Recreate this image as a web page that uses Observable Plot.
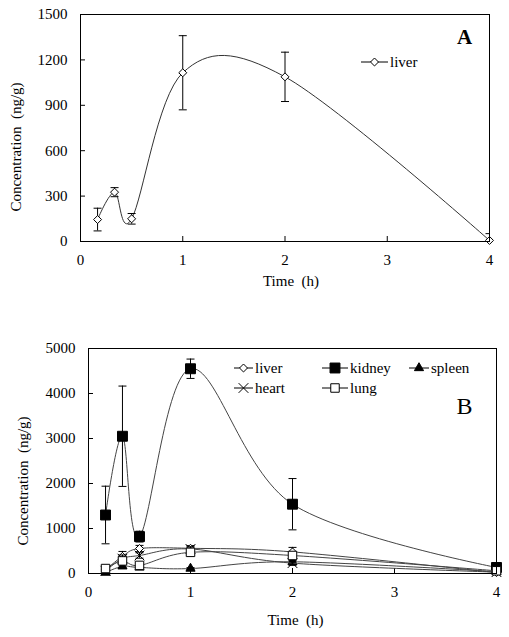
<!DOCTYPE html>
<html>
<head>
<meta charset="utf-8">
<script src="https://cdn.jsdelivr.net/npm/d3@7"></script>
<script src="https://cdn.jsdelivr.net/npm/@observablehq/plot@0.6"></script>
<style>
  html, body { margin: 0; padding: 0; background: white; }
  #chart svg { display: block; }
</style>
</head>
<body>
<div id="chart"></div>
<script>
// ---- data ----
const times = [0.167, 0.333, 0.5, 1, 2, 4];
const xTicks = [0, 1, 2, 3, 4];
const yTicksA = [0, 300, 600, 900, 1200, 1500];
const yTicksB = [0, 1000, 2000, 3000, 4000, 5000];

const liverA = [145, 326, 150, 1115, 1088, 7];
const liverAErr = [75, 30, 35, 245, 163, 45];

const liverB = [80, 380, 555, 560, 480, 20];
const liverBErr = [30, 110, 70, 60, 100, 20];
const kidneyB = [1300, 3050, 820, 4550, 1540, 134];
const kidneyBErr = [640, 1115, 120, 215, 570, 40];
const spleenB = [20, 160, 135, 110, 260, 40];
const spleenBErr = [10, 40, 30, 20, 40, 10];
const heartB = [60, 330, 400, 545, 230, 30];
const heartBErr = [20, 80, 60, 50, 50, 10];
const lungB = [110, 280, 180, 470, 400, 60];
const lungBErr = [30, 60, 50, 60, 60, 20];

const xLabel = "Time\u00a0 (h)";
const yLabel = "Concentration\u00a0 (ng/g)";

// ---- styling ----
const FONT = "'Liberation Serif', 'Times New Roman', serif";
const seriesStyle = {
  liver:  {symbol: "diamond2", r: 3.6, fill: "white"},
  kidney: {symbol: "square",   r: 5.6, fill: "black"},
  spleen: {symbol: "triangle", r: 3.4, fill: "black"},
  heart:  {symbol: "times",    r: 4.5, fill: "none"},
  lung:   {symbol: "square2",  r: 5.4, fill: "white"}
};
const capSymbol = {
  draw(context, size) {
    const r = Math.sqrt(size / Math.PI);
    context.moveTo(-r, 0);
    context.lineTo(r, 0);
  }
};

function rows(name, vals, errs) {
  return times.map((t, i) => ({name, t, v: vals[i], e: errs[i]}));
}

function seriesMarks(data, lineStroke) {
  const st = seriesStyle[data[0].name];
  return [
    Plot.line(data, {x: "t", y: "v", curve: "cardinal", stroke: lineStroke, strokeWidth: 1}),
    Plot.ruleX(data, {x: "t", y1: d => d.v - d.e, y2: d => d.v + d.e, stroke: "black", strokeWidth: 1, clip: true}),
    Plot.dot(data, {x: "t", y: d => d.v + d.e, symbol: capSymbol, r: 4, stroke: "black", strokeWidth: 1, clip: true}),
    Plot.dot(data, {x: "t", y: d => d.v - d.e, symbol: capSymbol, r: 4, stroke: "black", strokeWidth: 1, clip: true}),
    Plot.dot(data, {x: "t", y: "v", symbol: st.symbol, r: st.r, stroke: "black", fill: st.fill, strokeWidth: 1})
  ];
}

const symbolMap = {
  diamond2: d3.symbolDiamond2, square: d3.symbolSquare, triangle: d3.symbolTriangle,
  times: d3.symbolTimes, square2: d3.symbolSquare2
};

function addLegend(svg, entries) {
  const g = d3.select(svg).append("g");
  entries.forEach(en => {
    const st = seriesStyle[en.name];
    g.append("line").attr("x1", en.x).attr("x2", en.x + en.len)
      .attr("y1", en.y).attr("y2", en.y).attr("stroke", "black");
    g.append("path")
      .attr("d", d3.symbol(symbolMap[st.symbol], Math.PI * st.r * st.r)())
      .attr("transform", `translate(${en.x + en.len / 2},${en.y})`)
      .attr("stroke", "black").attr("fill", st.fill);
    g.append("text").attr("x", en.x + en.len + 2).attr("y", en.y + 5)
      .attr("text-anchor", "start")
      .style("text-anchor", "start")
      .attr("font-family", FONT).attr("font-size", 15).attr("fill", "black")
      .text(en.name);
  });
}

function panel({width, height, marginTop, marginBottom, marginLeft, marginRight, yMax, yTicks, marks, letter, letterStyle}) {
  const plotH = height - marginTop - marginBottom;
  const plotW = width - marginLeft - marginRight;
  return Plot.plot({
    width, height, marginTop, marginBottom, marginLeft, marginRight,
    style: {fontFamily: FONT, fontSize: "15px", background: "white", color: "black"},
    x: {domain: [0, 4]},
    y: {domain: [0, yMax]},
    marks: [
      Plot.axisX({ticks: xTicks, tickSize: 0, tickPadding: 13, tickFormat: d => String(d), label: null}),
      Plot.axisY({ticks: yTicks, tickSize: 0, tickPadding: 13, tickFormat: d => String(d), label: null}),
      Plot.tickX(xTicks, {x: d => d, insetTop: plotH - 5, stroke: "black"}),
      Plot.tickY(yTicks, {y: d => d, insetRight: plotW - 5, stroke: "black"}),
      ...marks,
      Plot.frame({stroke: "black", strokeWidth: 1}),
      Plot.text([xLabel], {text: d => d, frameAnchor: "bottom", textAnchor: "middle", lineAnchor: "middle", dx: letterStyle.xlabDx, dy: letterStyle.xlabDy, fontSize: 15}),
      Plot.text([yLabel], {text: d => d, frameAnchor: "left", textAnchor: "middle", lineAnchor: "middle", rotate: -90, dx: letterStyle.ylabDx, dy: letterStyle.ylabDy, fontSize: 15}),
      Plot.text([letter], {text: d => d, frameAnchor: "top-right", textAnchor: "middle", lineAnchor: "middle", dx: letterStyle.dx, dy: letterStyle.dy, fontSize: letterStyle.size, fontWeight: letterStyle.weight})
    ]
  });
}

const dataA = rows("liver", liverA, liverAErr);
const chartA = panel({
  width: 509, height: 305, marginTop: 14, marginBottom: 64, marginLeft: 80, marginRight: 20,
  yMax: 1500, yTicks: yTicksA,
  marks: seriesMarks(dataA, "#333"),
  letter: "A",
  letterStyle: {dx: -25, dy: 23, size: 21, weight: "bold", xlabDx: 6, xlabDy: 40, ylabDx: -64, ylabDy: 19}
});
addLegend(chartA, [{name: "liver", x: 361, y: 62, len: 27}]);

const dataB = [
  rows("liver", liverB, liverBErr),
  rows("kidney", kidneyB, kidneyBErr),
  rows("spleen", spleenB, spleenBErr),
  rows("heart", heartB, heartBErr),
  rows("lung", lungB, lungBErr)
];
const chartB = panel({
  width: 509, height: 332, marginTop: 43, marginBottom: 64, marginLeft: 88, marginRight: 13,
  yMax: 5000, yTicks: yTicksB,
  marks: dataB.flatMap(d => seriesMarks(d, "#444")),
  letter: "B",
  letterStyle: {dx: -32, dy: 58, size: 24, weight: "normal", xlabDx: 3, xlabDy: 47, ylabDx: -65, ylabDy: 20}
});
addLegend(chartB, [
  {name: "liver",  x: 234, y: 63, len: 19},
  {name: "kidney", x: 322, y: 63, len: 26},
  {name: "spleen", x: 409, y: 63, len: 20},
  {name: "heart",  x: 234, y: 83, len: 19},
  {name: "lung",   x: 322, y: 83, len: 26}
]);

document.getElementById("chart").append(chartA, chartB);
</script>
</body>
</html>
